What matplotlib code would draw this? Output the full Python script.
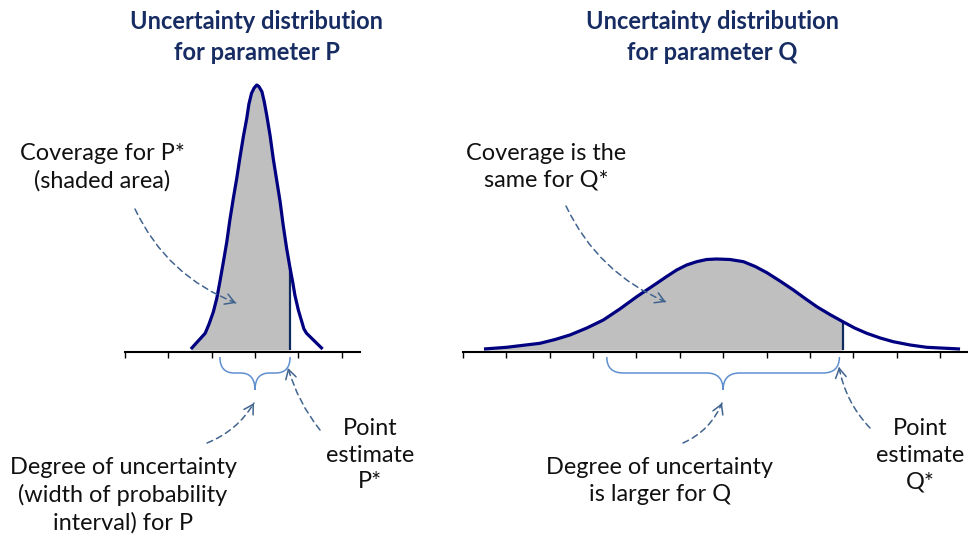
import numpy as np
import matplotlib.pyplot as plt
from matplotlib.patches import FancyArrowPatch, PathPatch
from matplotlib.path import Path

plt.rcParams['font.family'] = ['Lato', 'DejaVu Sans']

W, H = 968, 535

# parameter P: x in tick units, height above the axis (px)
p_x = [1.52, 1.85, 1.94, 2.04, 2.12, 2.19, 2.27, 2.35, 2.42, 2.50, 2.58,
       2.65, 2.73, 2.81, 2.86, 2.92, 2.98, 3.04, 3.09, 3.16, 3.21, 3.27,
       3.35, 3.42, 3.50, 3.58, 3.65, 3.73, 3.81, 3.87, 3.92, 4.00, 4.08,
       4.13, 4.19, 4.56]
p_h = [3, 18.7, 28, 40.3, 54, 70.3, 90, 110.3, 132, 153.7, 174,
       193.7, 215, 233.7, 248, 258.7, 264, 267, 265.5, 260.3, 251, 237,
       216, 193.7, 172, 150.3, 127, 103.7, 83.7, 70, 57, 42, 30.3,
       23, 18.7, 3]
p_star = 3.81
p_interval = [2.19, 3.81]
p_ticks = [0, 1, 2, 3, 4, 5]

# parameter Q
q_x = [0.49, 1.01, 1.78, 2.13, 2.47, 2.86, 3.24, 3.62, 4.01, 4.24, 4.47,
       4.70, 4.93, 5.16, 5.39, 5.62, 5.85, 6.16, 6.47, 6.74, 7.01, 7.31,
       7.62, 7.89, 8.16, 8.46, 8.76, 9.03, 9.31, 9.62, 9.92, 10.31, 10.69,
       11.46]
q_h = [3, 4.7, 8.7, 12.5, 17, 24, 32, 43, 55.3, 62, 68.7,
       75.5, 82, 87, 90.3, 92.5, 93, 92.5, 90.3, 85.5, 79.3, 71,
       62, 53.5, 45.3, 37.5, 30.3, 24, 18.7, 14, 10.3, 7, 4.7,
       3]
q_star = 8.76
q_interval = [3.32, 8.68]
q_ticks = list(range(12))

NAVY = '#000080'
TITLE = '#172c62'
BRACE = '#5f8fcf'
ARROW = '#41648f'

fig = plt.figure(figsize=(W / 100, H / 100), dpi=100)


def panel(x0, x1, origin, unit, axis_end, ticks):
    ax = fig.add_axes([x0 / W, (H - 400) / H, (x1 - x0) / W, 340 / H])
    ax.set_xlim((x0 - origin) / unit, (x1 - origin) / unit)
    ax.set_ylim(-48, 292)
    for s in ['top', 'left', 'right']:
        ax.spines[s].set_visible(False)
    ax.spines['bottom'].set_position(('data', 0))
    ax.spines['bottom'].set_bounds(0, (axis_end - origin) / unit)
    ax.spines['bottom'].set_linewidth(1.5)
    ax.set_xticks(ticks)
    ax.set_yticks([])
    ax.tick_params(axis='x', direction='out', length=4.5, width=1.0,
                   labelbottom=False)
    ax.patch.set_alpha(0)
    return ax


def draw_dist(ax, xs, hs, star):
    xs = np.array(xs)
    hs = np.array(hs)
    m = xs <= star
    ax.fill_between(xs[m], 2, hs[m], color='#bfbfbf', lw=0, zorder=1)
    ax.plot(xs, hs, color=NAVY, lw=2.3, solid_joinstyle='round',
            solid_capstyle='butt', zorder=3)
    h_star = hs[list(xs).index(star)]
    ax.vlines(star, 2, h_star, color='#0f2a5c', lw=1.6, zorder=2)


def brace(ax, lo, hi, rx, y_top=-5, y_mid=-21, y_tip=-38):
    mid = (lo + hi) / 2
    verts = [(lo, y_top), (lo, y_mid), (lo + rx, y_mid),
             (mid - rx, y_mid), (mid, y_mid), (mid, y_tip),
             (mid, y_mid), (mid + rx, y_mid),
             (hi - rx, y_mid), (hi, y_mid), (hi, y_top)]
    codes = [Path.MOVETO, Path.CURVE3, Path.CURVE3,
             Path.LINETO, Path.CURVE3, Path.CURVE3,
             Path.CURVE3, Path.CURVE3,
             Path.LINETO, Path.CURVE3, Path.CURVE3]
    ax.add_patch(PathPatch(Path(verts, codes), fill=False, ec=BRACE,
                           lw=1.1, clip_on=False))


def fpos(x, y):
    return (x / W, 1 - y / H)


def dashed_arrow(start, end, rad):
    ax_, ay_ = start[0], H - start[1]
    bx, by = end[0], H - end[1]
    dx, dy = bx - ax_, by - ay_
    cx = (ax_ + bx) / 2 + rad * dy
    cy = (ay_ + by) / 2 - rad * dx
    body = FancyArrowPatch(fpos(*start), fpos(*end), transform=fig.transFigure,
                           connectionstyle=f'arc3,rad={rad}', arrowstyle='-',
                           color=ARROW, lw=1.1, linestyle=(0, (4, 2.8)),
                           shrinkA=0, shrinkB=0)
    fig.patches.append(body)
    tx, ty = bx - cx, by - cy
    n = np.hypot(tx, ty)
    sx, sy = bx - 3 * tx / n, by - 3 * ty / n
    head = FancyArrowPatch((sx / W, sy / H), (bx / W, by / H),
                           transform=fig.transFigure,
                           arrowstyle='->,head_length=0.55,head_width=0.32',
                           mutation_scale=12, color=ARROW, lw=1.1,
                           shrinkA=0, shrinkB=0)
    fig.patches.append(head)


ax1 = panel(100, 380, 125, 43.33, 360, p_ticks)
ax2 = panel(450, 968, 462.7, 43.4, 967, q_ticks)

draw_dist(ax1, p_x, p_h, p_star)
draw_dist(ax2, q_x, q_h, q_star)

brace(ax1, p_interval[0], p_interval[1], 0.33)
brace(ax2, q_interval[0], q_interval[1], 0.38)

# arrows (pixel positions of the annotation callouts)
dashed_arrow((135, 209), (236, 303), 0.2)
dashed_arrow((566, 206), (666, 302), 0.19)
dashed_arrow((207, 443), (254, 403), 0.17)
dashed_arrow((320, 430), (288, 368), -0.1)
dashed_arrow((683, 443), (722, 403), 0.2)
dashed_arrow((870, 428), (839, 367), -0.15)

title_kw = dict(ha='center', va='center', fontsize=17, fontweight='bold',
                color=TITLE, linespacing=1.42)
fig.text(*fpos(257, 37), 'Uncertainty distribution\nfor parameter P', **title_kw)
fig.text(*fpos(712, 37), 'Uncertainty distribution\nfor parameter Q', **title_kw)

note_kw = dict(ha='center', va='center', fontsize=16.9, color='#111111',
               linespacing=1.34)
fig.text(*fpos(102, 167), 'Coverage for P*\n(shaded area)', **note_kw)
fig.text(*fpos(546, 167), 'Coverage is the\nsame for Q*', **note_kw)
fig.text(*fpos(123, 495), 'Degree of uncertainty\n(width of probability\ninterval) for P', **note_kw)
fig.text(*fpos(370, 455), 'Point\nestimate\nP*', **note_kw)
fig.text(*fpos(660, 481), 'Degree of uncertainty\nis larger for Q', **note_kw)
fig.text(*fpos(920, 455), 'Point\nestimate\nQ*', **note_kw)

fig.savefig('out.png', dpi=100)
